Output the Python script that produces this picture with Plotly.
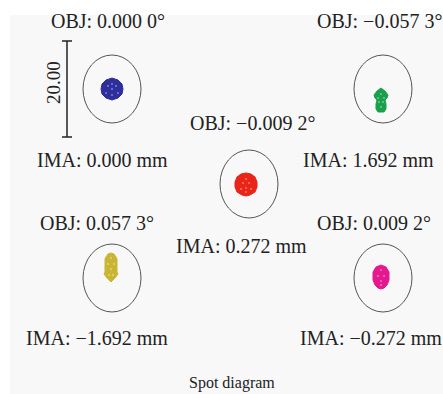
import plotly.graph_objects as go

# Field labels and image heights for the five spots
obj_labels = ["OBJ: 0.000 0°", "OBJ: −0.057 3°", "OBJ: −0.009 2°", "OBJ: 0.057 3°", "OBJ: 0.009 2°"]
ima_labels = ["IMA: 0.000 mm", "IMA: 1.692 mm", "IMA: 0.272 mm", "IMA: −1.692 mm", "IMA: −0.272 mm"]
spot_colors = ["#2e2f9c", "#19a04a", "#ea2417", "#c9b532", "#e5198f"]

# Layout of each spot panel (pixel-like coordinates, y downwards)
circle_cx = [112, 383, 249, 112, 383]
circle_cy = [89, 89, 184, 278, 278]
spot_cx = [112, 381, 246, 111, 381]
spot_cy = [89, 100, 184, 267, 277]
obj_x = [108, 379, 252, 97, 374]
obj_y = [21, 21, 123, 223, 223]
ima_x = [102, 368, 241, 97, 371]
ima_y = [160, 160, 246, 338, 338]

# Outline of each ray footprint, offsets from the spot centre
spot_dx = [
    [0, 6, 10, 11, 10, 6, 0, -6, -10, -11, -10, -6],
    [0, 4, 7, 6, 4, 5, 5, 3, -3, -5, -5, -4, -6, -7, -4],
    [0, 5, 9, 11, 11, 9, 4, 0, -4, -9, -11, -11, -9, -5],
    [0, 3, 5, 6, 6, 7, 4, 0, -4, -7, -6, -6, -5, -3],
    [0, 5, 8, 8, 6, 3, 0, -3, -6, -8, -8, -5],
]
spot_dy = [
    [-11, -9, -5, 0, 5, 9, 11, 9, 5, 0, -5, -9],
    [-12, -9, -5, -2, 0, 4, 9, 12, 12, 9, 4, 0, -2, -5, -9],
    [-11, -10, -7, -2, 3, 8, 11, 12, 11, 8, 3, -2, -7, -10],
    [-14, -13, -10, -8, 5, 7, 11, 15, 11, 7, 5, -8, -10, -13],
    [-12, -10, -5, 3, 8, 11, 12, 11, 8, 3, -5, -10],
]
# Sparse gaps inside each footprint, offsets from the spot centre
gap_dx = [
    [0, 0, -4, 4, -6, 6, 0],
    [0, -2, 2, 0, -3, 3],
    [0, -3, 3, 0, -5, 5, 0],
    [0, -3, 3, 0, -2, 2],
    [0, -3, 3, 0, 0],
]
gap_dy = [
    [0, -5, -3, -3, 4, 4, 6],
    [-6, 2, 2, 7, -2, -2],
    [-5, -1, -1, 4, 5, 5, 8],
    [-9, -3, -3, 2, 8, 8],
    [-7, -1, -1, 4, 8],
]

airy_rx, airy_ry = 29, 34
serif = "Liberation Serif, Times New Roman, serif"
label_size = 20

fig = go.Figure()

for i in range(5):
    xs = [spot_cx[i] + d for d in spot_dx[i]] + [spot_cx[i] + spot_dx[i][0]]
    ys = [spot_cy[i] + d for d in spot_dy[i]] + [spot_cy[i] + spot_dy[i][0]]
    fig.add_trace(go.Scatter(
        x=xs, y=ys, mode="lines", fill="toself",
        fillcolor=spot_colors[i], line=dict(color=spot_colors[i], width=1),
        hoverinfo="skip", showlegend=False,
    ))
    fig.add_trace(go.Scatter(
        x=[spot_cx[i] + d for d in gap_dx[i]],
        y=[spot_cy[i] + d for d in gap_dy[i]],
        mode="markers", marker=dict(color="white", size=2, opacity=0.4, line=dict(width=0)),
        hoverinfo="skip", showlegend=False,
    ))

shapes = [dict(type="rect", xref="x", yref="y", x0=10, x1=443, y0=15, y1=394,
               fillcolor="#f8f8f8", line=dict(width=0), layer="below")]
for i in range(5):
    shapes.append(dict(
        type="circle", xref="x", yref="y",
        x0=circle_cx[i] - airy_rx, x1=circle_cx[i] + airy_rx,
        y0=circle_cy[i] - airy_ry, y1=circle_cy[i] + airy_ry,
        line=dict(color="#555555", width=1), layer="above",
    ))

# Scale bar
bar_x, bar_top, bar_bot = 67, 41, 137
shapes.append(dict(type="line", xref="x", yref="y", x0=bar_x, x1=bar_x, y0=bar_top, y1=bar_bot,
                   line=dict(color="#222222", width=1.5)))
for yb in (bar_top, bar_bot):
    shapes.append(dict(type="line", xref="x", yref="y", x0=bar_x - 5, x1=bar_x + 5, y0=yb, y1=yb,
                       line=dict(color="#222222", width=1.5)))

annotations = []
for i in range(5):
    annotations.append(dict(x=obj_x[i], y=obj_y[i], text=obj_labels[i], showarrow=False,
                            xanchor="center", yanchor="middle", xref="x", yref="y",
                            font=dict(family=serif, size=label_size, color="#222222")))
    annotations.append(dict(x=ima_x[i], y=ima_y[i], text=ima_labels[i], showarrow=False,
                            xanchor="center", yanchor="middle", xref="x", yref="y",
                            font=dict(family=serif, size=label_size, color="#222222")))
annotations.append(dict(x=53, y=83, text="20.00", textangle=-90, showarrow=False,
                        xanchor="center", yanchor="middle", xref="x", yref="y",
                        font=dict(family=serif, size=19, color="#222222")))
annotations.append(dict(x=232, y=383, text="Spot diagram", showarrow=False,
                        xanchor="center", yanchor="middle", xref="x", yref="y",
                        font=dict(family=serif, size=16, color="#222222")))

fig.update_layout(
    width=443, height=394,
    margin=dict(l=0, r=0, t=0, b=0),
    paper_bgcolor="white", plot_bgcolor="white",
    xaxis=dict(range=[0, 443], visible=False, fixedrange=True),
    yaxis=dict(range=[394, 0], visible=False, fixedrange=True),
    shapes=shapes, annotations=annotations,
    showlegend=False,
)

fig.write_html("out.html")
